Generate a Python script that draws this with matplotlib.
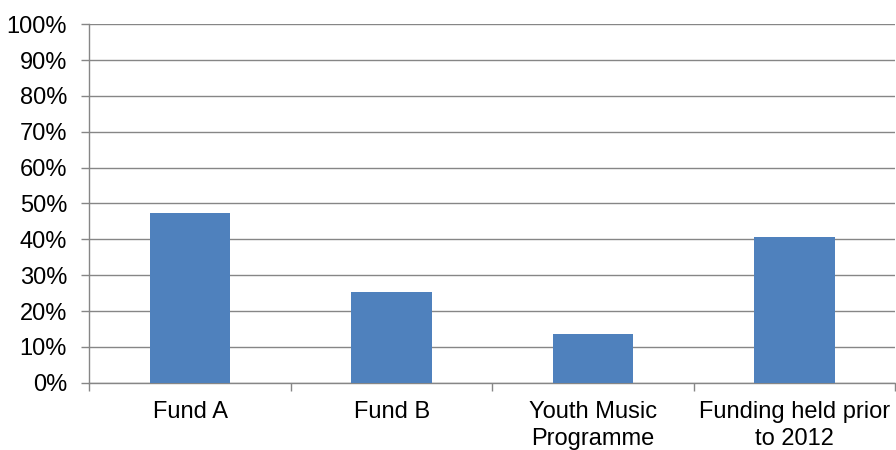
import numpy as np
import matplotlib.pyplot as plt
from matplotlib.ticker import FixedLocator, PercentFormatter

plt.rcParams['font.family'] = ['Liberation Sans', 'DejaVu Sans']

kategorije = ['Fund A', 'Fund B', 'Youth Music\nProgramme', 'Funding held prior\nto 2012']
postotci = [47.4, 25.4, 13.5, 40.6]

fig = plt.figure(figsize=(8.96, 4.5), dpi=100)
ax = fig.add_axes([0.0997, 0.1496, 0.8995, 0.7964])

x = np.arange(len(kategorije))
ax.bar(x, postotci, width=0.4, color='#4F81BD', zorder=3)

ax.set_xlim(-0.5, len(kategorije) - 0.5)
ax.set_ylim(0, 100)
ax.set_yticks(np.arange(0, 101, 10))
ax.yaxis.set_major_formatter(PercentFormatter(decimals=0))

# kategorije u sredini, crtice na granicama
ax.set_xticks(x)
ax.set_xticklabels(kategorije, linespacing=1.3)
ax.xaxis.set_minor_locator(FixedLocator(np.arange(-0.5, len(kategorije), 1)))
ax.tick_params(axis='x', which='major', length=0, pad=13, labelsize=17)
ax.tick_params(axis='x', which='minor', length=6, width=1, color='#868686')
ax.tick_params(axis='y', length=6, width=1, color='#868686', pad=10, labelsize=17)

ax.grid(axis='y', color='#868686', lw=1, zorder=0)
for s in ['top', 'right']:
    ax.spines[s].set_visible(False)
for s in ['left', 'bottom']:
    ax.spines[s].set_color('#868686')
    ax.spines[s].set_linewidth(1)

fig.savefig('out.png', dpi=100)
